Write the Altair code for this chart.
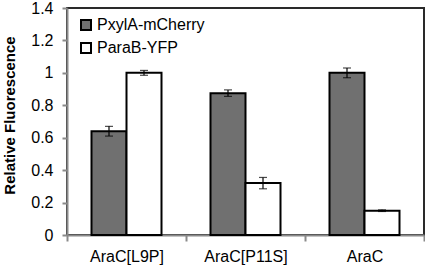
import altair as alt
import pandas as pd

categories = ["AraC[L9P]", "AraC[P11S]", "AraC"]
series = ["PxylA-mCherry", "ParaB-YFP"]
mcherry = [0.64, 0.875, 1.0]
mcherry_err = [0.03, 0.02, 0.03]
yfp = [1.0, 0.32, 0.15]
yfp_err = [0.015, 0.035, 0.005]
y_ticks = [0, 0.2, 0.4, 0.6, 0.8, 1.0, 1.2, 1.4]

rows = []
for i, c in enumerate(categories):
    rows.append(dict(cat=c, series=series[0], value=mcherry[i], err=mcherry_err[i]))
    rows.append(dict(cat=c, series=series[1], value=yfp[i], err=yfp_err[i]))
df = pd.DataFrame(rows)
df["lo"] = df["value"] - df["err"]
df["hi"] = df["value"] + df["err"]

FONT = "Liberation Sans"
yscale = alt.Scale(domain=[0, 1.4], nice=False)
yaxis = alt.Axis(title="Relative Fluorescence", values=y_ticks, format="~g",
                 grid=False, labelFontSize=16, labelPadding=9, tickSize=5,
                 labelOverlap=False, labelFlush=False,
                 titleFontSize=15, titleFontWeight="bold",
                 titleX=-50, titleY=107)

x = alt.X("cat:N", sort=categories,
          scale=alt.Scale(paddingInner=0, paddingOuter=0),
          axis=alt.Axis(title=None, labelAngle=0, tickBand="extent",
                        labelFontSize=16, labelPadding=7, tickSize=6,
                        labelOverlap=False))
xo = alt.XOffset("series:N", sort=series,
                 scale=alt.Scale(domain=series, paddingInner=0, paddingOuter=0.7))
y = alt.Y("value:Q", scale=yscale, axis=yaxis)
ylo = alt.Y("lo:Q", scale=yscale, axis=yaxis)
yhi = alt.Y("hi:Q", scale=yscale, axis=yaxis)

base = alt.Chart(df)

bars = base.mark_bar(stroke="black", strokeWidth=2).encode(
    x=x, xOffset=xo, y=y,
    fill=alt.Fill("series:N", sort=series,
                  scale=alt.Scale(domain=series, range=["#707070", "#ffffff"]),
                  legend=alt.Legend(title=None, orient="none", legendX=11, legendY=9,
                                    symbolType="square", symbolSize=100,
                                    symbolStrokeColor="black", symbolStrokeWidth=2,
                                    labelFontSize=16, labelFont=FONT, labelColor="black",
                                    rowPadding=5, padding=0, labelOffset=3)),
)

rule = base.mark_rule(color="black", strokeWidth=1.2).encode(
    x=x, xOffset=xo, y=ylo, y2="hi:Q")
tick_lo = base.mark_tick(color="black", size=8, thickness=1.2).encode(
    x=x, xOffset=xo, y=ylo)
tick_hi = base.mark_tick(color="black", size=8, thickness=1.2).encode(
    x=x, xOffset=xo, y=yhi)

chart = alt.layer(bars, rule, tick_lo, tick_hi).properties(
    width=357, height=227,
    autosize=alt.AutoSizeParams(type="none"),
    padding={"left": 67, "top": 8, "right": 1, "bottom": 34},
    background="white",
).configure_view(
    stroke="#2a2a2a", strokeWidth=2
).configure_axis(
    domainColor="#8a8a8a", domainWidth=2, tickColor="#8a8a8a", tickWidth=2,
    labelFont=FONT, titleFont=FONT, labelColor="black", titleColor="black",
)

chart.save("out.html", embed_options={"renderer": "svg", "actions": False})
